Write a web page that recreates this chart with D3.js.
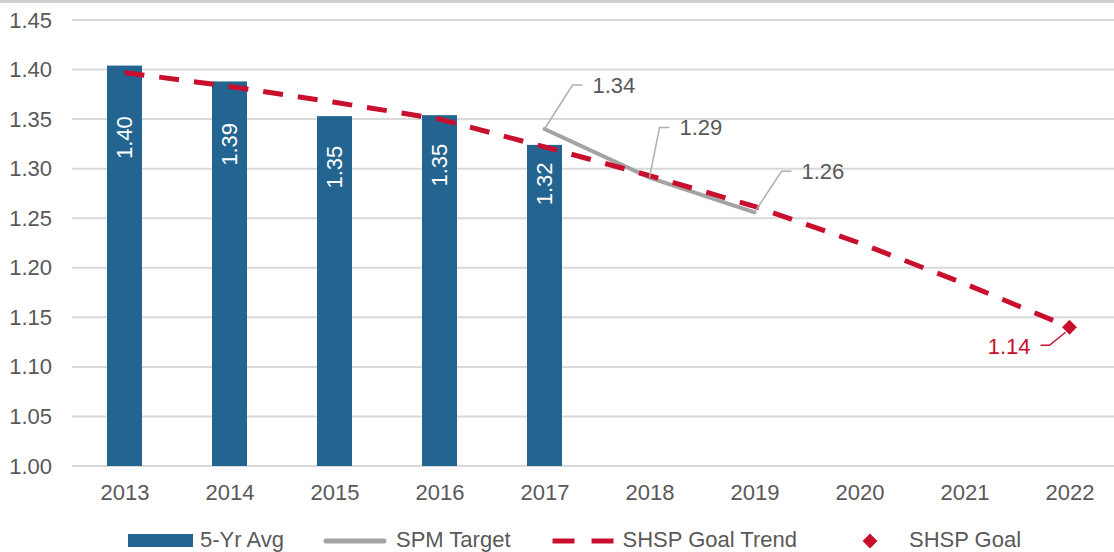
<!DOCTYPE html>
<html>
<head>
<meta charset="utf-8">
<script src="https://cdn.jsdelivr.net/npm/d3@7"></script>
<style>
  body { margin: 0; background: #fff; }
  svg { display: block; font-family: "Liberation Sans", Arial, sans-serif; }
</style>
</head>
<body>
<svg id="chart" width="1114" height="552"></svg>
<script>
// data
var years      = [2013, 2014, 2015, 2016, 2017, 2018, 2019, 2020, 2021, 2022];
var avg5yr     = [1.404, 1.388, 1.353, 1.354, 1.324];
var spmTarget  = [null, null, null, null, 1.340, 1.291, 1.256];
var goalTrend  = [1.397, 1.383, 1.367, 1.350, 1.322, 1.293, 1.262, 1.225, 1.184, 1.140];
var goalYear   = 2022;
var goalValue  = 1.14;
var yTicks     = [1.00, 1.05, 1.10, 1.15, 1.20, 1.25, 1.30, 1.35, 1.40, 1.45];
var legendNames = ['5-Yr Avg', 'SPM Target', 'SHSP Goal Trend', 'SHSP Goal'];

// layout tweaks (label nudges as in the original)
var barLabelDy  = [72, 63, 51, 50, 39];
var spmLabelOff = [[28, -44], [10, -50], [27, -41]];

var colBar = '#236590', colRed = '#c8102e', colGray = '#a3a3a3',
    colText = '#595959', colGrid = '#d9d9d9';
var fs = '22px';

var svg = d3.select('#chart');
var W = 1114;

var x = d3.scalePoint().domain(years).range([72, 1122]).padding(0.5);
var y = d3.scaleLinear().domain([1.0, 1.45]).range([466, 20]);
var barW = x.step() / 3;

// top band
svg.append('rect').attr('x', 0).attr('y', 0).attr('width', W).attr('height', 3)
  .attr('fill', '#d0d0d0');

// gridlines
svg.append('g').selectAll('line').data(yTicks).enter().append('line')
  .attr('x1', 72).attr('x2', W)
  .attr('y1', function (d) { return y(d); })
  .attr('y2', function (d) { return y(d); })
  .attr('stroke', colGrid).attr('stroke-width', 2);

// y axis labels
var yAxis = svg.append('g').attr('transform', 'translate(72,0)')
  .call(d3.axisLeft(y).tickValues(yTicks).tickFormat(d3.format('.2f')).tickSize(0).tickPadding(20));
yAxis.select('.domain').remove();
yAxis.selectAll('text').attr('fill', colText).style('font-size', fs)
  .style('font-family', '"Liberation Sans", Arial, sans-serif');

// x axis labels
var xAxis = svg.append('g').attr('transform', 'translate(0,466)')
  .call(d3.axisBottom(x).tickSize(0).tickPadding(18));
xAxis.select('.domain').remove();
xAxis.selectAll('text').attr('fill', colText).style('font-size', fs)
  .style('font-family', '"Liberation Sans", Arial, sans-serif');

// bars
var bars = svg.append('g').selectAll('g').data(avg5yr).enter().append('g');
bars.append('rect')
  .attr('x', function (d, i) { return x(years[i]) - barW / 2; })
  .attr('y', function (d) { return y(d); })
  .attr('width', barW)
  .attr('height', function (d) { return y(1.0) - y(d); })
  .attr('fill', colBar);
bars.append('text')
  .text(function (d) { return d.toFixed(2); })
  .attr('transform', function (d, i) {
    return 'translate(' + x(years[i]) + ',' + (y(d) + barLabelDy[i]) + ') rotate(-90)';
  })
  .attr('text-anchor', 'middle').attr('dy', '0.35em')
  .attr('fill', '#fff').style('font-size', fs);

// SPM target line
var spmPts = spmTarget.map(function (v, i) { return { year: years[i], v: v }; })
  .filter(function (d) { return d.v != null; });
svg.append('path').datum(spmPts)
  .attr('d', d3.line().x(function (d) { return x(d.year); }).y(function (d) { return y(d.v); }))
  .attr('fill', 'none').attr('stroke', colGray).attr('stroke-width', 4)
  .attr('stroke-linecap', 'round');

// goal trend dashed line
svg.append('path').datum(goalTrend)
  .attr('d', d3.line().x(function (d, i) { return x(years[i]); }).y(function (d) { return y(d); }))
  .attr('fill', 'none').attr('stroke', colRed).attr('stroke-width', 5)
  .attr('stroke-dasharray', '20,15');

// SPM labels with leaders
spmPts.forEach(function (d, i) {
  var px = x(d.year), py = y(d.v);
  var ex = px + spmLabelOff[i][0], ey = py + spmLabelOff[i][1];
  svg.append('polyline')
    .attr('points', [px, py, ex, ey, ex + 10, ey].join(','))
    .attr('fill', 'none').attr('stroke', '#b0b0b0').attr('stroke-width', 1.5);
  svg.append('text').text(d.v.toFixed(2))
    .attr('x', ex + 20).attr('y', ey).attr('dy', '0.35em')
    .attr('fill', colText).style('font-size', fs);
});

// goal marker
var gx = x(goalYear), gy = y(goalValue);
svg.append('path')
  .attr('d', d3.symbol(d3.symbolSquare, 110)())
  .attr('transform', 'translate(' + gx + ',' + gy + ') rotate(45)')
  .attr('fill', colRed);
svg.append('polyline')
  .attr('points', [gx - 4, gy + 5, gx - 20, gy + 18, gx - 29, gy + 18].join(','))
  .attr('fill', 'none').attr('stroke', colRed).attr('stroke-width', 1.5);
svg.append('text').text(goalValue.toFixed(2))
  .attr('x', gx - 39).attr('y', gy + 19).attr('dy', '0.35em')
  .attr('text-anchor', 'end').attr('fill', colRed).style('font-size', fs);

// legend
var legend = svg.append('g').attr('transform', 'translate(0,540)');
var lx = 128;
legendNames.forEach(function (name, i) {
  var g = legend.append('g').attr('transform', 'translate(' + lx + ',0)');
  if (i === 0) {
    g.append('rect').attr('x', 0).attr('y', -6).attr('width', 65).attr('height', 13).attr('fill', colBar);
  } else if (i === 1) {
    g.append('line').attr('x1', 2).attr('x2', 60).attr('y1', 1).attr('y2', 1)
      .attr('stroke', colGray).attr('stroke-width', 5).attr('stroke-linecap', 'round');
  } else if (i === 2) {
    g.append('line').attr('x1', 2).attr('x2', 63).attr('y1', 1).attr('y2', 1)
      .attr('stroke', colRed).attr('stroke-width', 5).attr('stroke-dasharray', '22,17');
  } else {
    g.append('path').attr('d', d3.symbol(d3.symbolSquare, 110)())
      .attr('transform', 'translate(33,1) rotate(45)').attr('fill', colRed);
  }
  var t = g.append('text').text(name).attr('x', 72).attr('dy', '0.3em')
    .attr('fill', colText).style('font-size', fs);
  lx += 72 + t.node().getComputedTextLength() + 40;
});
</script>
</body>
</html>
